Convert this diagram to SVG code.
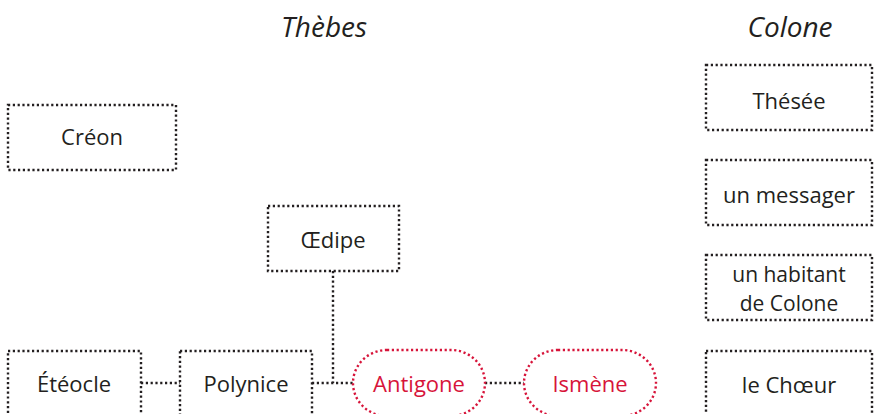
<svg xmlns="http://www.w3.org/2000/svg" width="874" height="414" viewBox="0 0 874 414">
<style>
.box{fill:none;stroke:#231f20;stroke-width:2.4;stroke-dasharray:2.2 2.6}
.pill{fill:none;stroke:#d7143a;stroke-width:2.4;stroke-dasharray:2.2 2.6}
.edge{fill:none;stroke:#231f20;stroke-width:2.4;stroke-dasharray:2.2 2.6}
.t{font-family:"Open Sans","Noto Sans",sans-serif;font-size:22px;fill:#231f20;text-anchor:middle}
.s{font-size:21px}
.r{fill:#d7143a}
.h{font-family:"Open Sans","Noto Sans",sans-serif;font-size:28px;font-style:italic;fill:#231f20;text-anchor:middle}
</style>
<rect width="874" height="414" fill="#fff"/>
<text class="h" x="324" y="37">Thèbes</text>
<text class="h" x="790" y="37">Colone</text>
<g id="connectors">
<path class="edge" d="M333 271 V383"/>
<path class="edge" d="M312 383 H353"/>
<path class="edge" d="M141 383 H180"/>
<path class="edge" d="M485 383 H524"/>
</g>
<g id="creon"><rect class="box" x="8" y="105" width="168" height="65"/><text class="t" x="92" y="145">Créon</text></g>
<g id="oedipe"><rect class="box" x="268" y="206" width="131" height="65"/><text class="t" x="333" y="248">Œdipe</text></g>
<g id="eteocle"><rect class="box" x="8" y="351" width="133" height="66"/><text class="t" x="74" y="392">Étéocle</text></g>
<g id="polynice"><rect class="box" x="180" y="351" width="132" height="66"/><text class="t" x="246" y="392">Polynice</text></g>
<g id="antigone"><rect class="pill" x="353" y="350" width="132" height="66" rx="34" ry="33"/><text class="t r" x="419" y="392">Antigone</text></g>
<g id="ismene"><rect class="pill" x="524" y="350" width="132" height="66" rx="34" ry="33"/><text class="t r" x="590" y="392">Ismène</text></g>
<g id="thesee"><rect class="box" x="706" y="65" width="166" height="65"/><text class="t" x="789" y="109">Thésée</text></g>
<g id="messager"><rect class="box" x="706" y="160" width="166" height="65"/><text class="t" x="789" y="203">un messager</text></g>
<g id="habitant"><rect class="box" x="706" y="255" width="166" height="65"/><text class="t s" x="789" y="282">un habitant</text><text class="t s" x="789" y="311">de Colone</text></g>
<g id="choeur"><rect class="box" x="706" y="351" width="166" height="66"/><text class="t" x="789" y="393">le Chœur</text></g>
</svg>
